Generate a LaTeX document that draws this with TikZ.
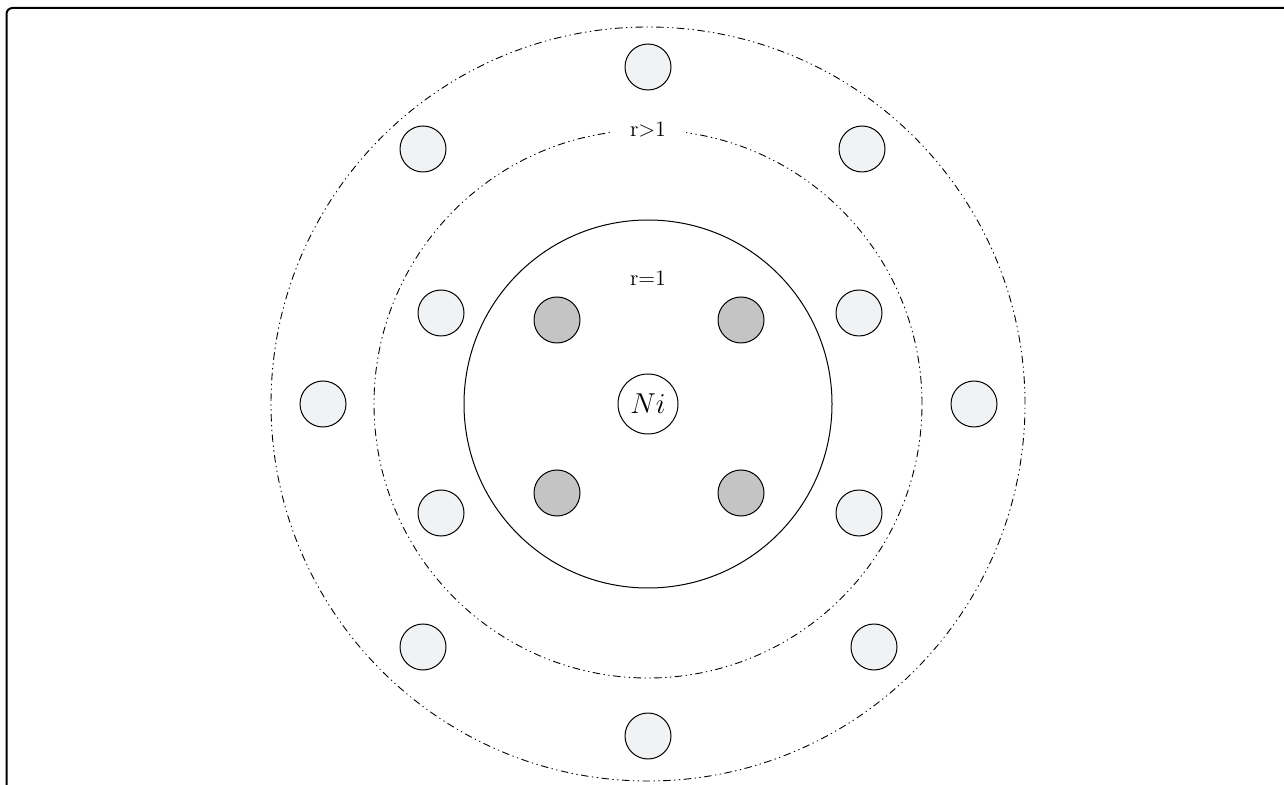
\documentclass[tikz,border=0pt]{standalone}
\usepackage{tikz}
\usetikzlibrary{positioning}
\definecolor{ligfill}{HTML}{F1F2F4}
\definecolor{bondfill}{HTML}{C4C4C4}
\begin{document}
\begin{tikzpicture}[x=.5pt,y=-.5pt,line cap=round,
  ligand/.style={circle,draw,line width=.5pt,fill=ligfill,minimum size=23pt,inner sep=0pt},
  bonded/.style={ligand,fill=bondfill},
  shell/.style={line width=.45pt,dash pattern=on 3.5pt off 2pt on .4pt off 2pt on .4pt off 2pt},
  lbl/.style={font=\fontsize{11}{13}\selectfont,inner sep=1pt}]
  \useasboundingbox (0,0) rectangle (1284,785);
  \clip (0,0) rectangle (1284,785);
  \draw[line width=1pt,rounded corners=3pt] (6.5,8) rectangle (1320,820);
  % Central atom and the three shells around it.
  \node[circle,draw,line width=.5pt,minimum size=30pt,inner sep=0pt,font=\Large] (ni) at (648,404) {$Ni$};
  \draw[line width=.5pt] (ni.center) circle[radius=92pt];
  \draw[shell] (ni.center) circle[radius=137pt];
  \draw[shell] (ni.center) circle[radius=188.5pt];
  \node[lbl] (rone) at (648,278) {r=1};
  \node[lbl,fill=white,inner xsep=10pt] (rmore) at (648,129) {r>1};
  % First shell: bonded neighbours.
  \foreach \n/\x/\y in {b1/557/320,b2/741/320,b3/557/493,b4/741/493}
    \node[bonded] (\n) at (\x,\y) {};
  % Second shell.
  \foreach \n/\x/\y in {m1/441/313,m2/859/313,m3/441/513,m4/859/513}
    \node[ligand] (\n) at (\x,\y) {};
  % Third shell.
  \foreach \n/\x/\y in {o1/648/67,o2/423/149,o3/862/149,o4/323/404,
    o5/974/404,o6/423/647,o7/874/647,o8/648/736}
    \node[ligand] (\n) at (\x,\y) {};
\end{tikzpicture}
\end{document}
